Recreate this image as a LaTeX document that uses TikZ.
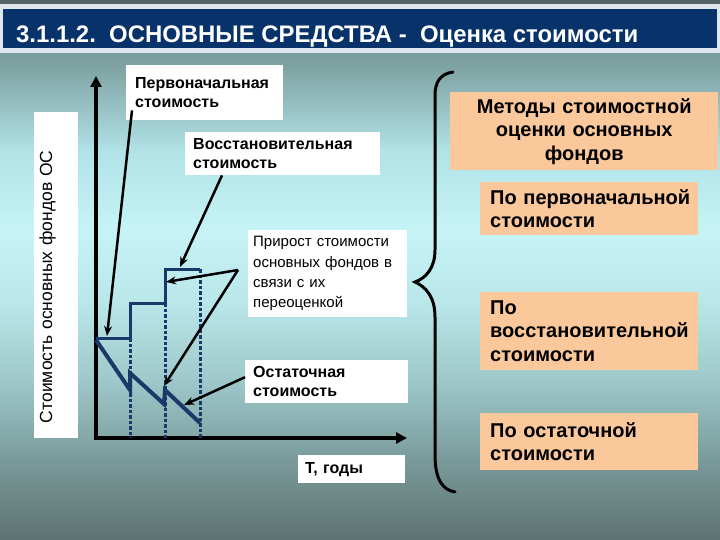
\documentclass[tikz,border=0pt]{standalone}
\usepackage{fontspec}
\setmainfont{Liberation Sans}
\usetikzlibrary{arrows.meta}
\definecolor{navy}{RGB}{8,50,106}
\definecolor{topdark}{RGB}{84,100,100}
\definecolor{titlelight}{RGB}{222,232,236}
\definecolor{peach}{RGB}{250,200,155}
\definecolor{graphblue}{RGB}{26,56,104}
\definecolor{bg1}{RGB}{118,148,148}
\definecolor{bg2}{RGB}{124,158,158}
\definecolor{bg3}{RGB}{176,226,230}
\definecolor{bg4}{RGB}{198,244,246}
\definecolor{bg5}{RGB}{186,232,234}
\definecolor{bg6}{RGB}{158,200,202}
\definecolor{bg7}{RGB}{122,154,154}
\definecolor{bg8}{RGB}{92,114,112}
\pgfdeclareverticalshading{bgshade}{100bp}{color(0bp)=(bg8); color(25bp)=(bg8); color(32.4bp)=(bg7); color(39.8bp)=(bg6); color(47.2bp)=(bg5); color(53.7bp)=(bg4); color(61.1bp)=(bg3); color(69.4bp)=(bg2); color(75bp)=(bg1); color(100bp)=(bg1)}
\tikzset{
  wbox/.style={fill=white, anchor=north west, inner ysep=0pt, align=left},
  pbox/.style={fill=peach, anchor=north west, inner ysep=0pt, inner xsep=10pt, text width=198pt, minimum width=218pt, align=left, font=\fontsize{20}{23.5}\selectfont\bfseries},
  smallbold/.style={font=\fontsize{16}{19.5}\selectfont\bfseries},
  pointer/.style={draw=black, line width=2.5pt, -{Stealth[length=10pt,width=8pt]}},
  axis/.style={draw=black, line width=4pt, -{Triangle[length=11pt,width=11pt]}},
  stepline/.style={draw=graphblue, line width=3pt, line join=miter},
  sawline/.style={draw=graphblue, line width=4pt, line join=miter},
  dropline/.style={draw=graphblue, line width=3pt, dash pattern=on 3.5pt off 2pt},
}
\begin{document}
\begin{tikzpicture}[x=1pt,y=-1pt]
\useasboundingbox (0,0) rectangle (720,540);
\shade[shading=bgshade] (0,0) rectangle (720,540);
\fill[topdark] (0,0) rectangle (720,4);
\fill[titlelight] (0,4) rectangle (720,53);
\fill[navy] (3,9) rectangle (717,48);
\node[anchor=base west, inner sep=0pt, text=white, font=\fontsize{23.9}{28}\selectfont\bfseries] (title) at (16,43) {3.1.1.2.\ \ ОСНОВНЫЕ СРЕДСТВА -\ \ Оценка стоимости};

% y axis label box
\node[fill=white, rotate=90, minimum width=326pt, minimum height=44pt, inner xsep=15pt, inner ysep=0pt, text width=296pt, align=left, text height=9pt, text depth=17pt, font=\fontsize{17.5}{20}\selectfont] (ylab) at (56,275) {Стоимость основных фондов ОС};

% axes
\coordinate (O) at (96,438);
\coordinate (ytip) at (96,76);
\coordinate (xtip) at (407,438);
\draw[axis] ([yshift=-2pt]O) -- (ytip);
\draw[axis] ([xshift=-2pt]O) -- (xtip);

% graph points
\coordinate (s0) at (96,338);
\coordinate (s1) at (130,338);
\coordinate (s2) at (130,303);
\coordinate (s3) at (165,303);
\coordinate (s4) at (165,269);
\coordinate (s5) at (200,269);
\draw[dropline] (s1) -- (130,438);
\draw[dropline] (s3) -- (165,438);
\draw[dropline] (s5) -- (200,438);
\draw[stepline] (s0) -- (s1) -- (s2) -- (s3) -- (s4) -- (s5);
\coordinate (r0) at (96,340);
\coordinate (r1) at (130,390);
\coordinate (r2) at (130,373);
\coordinate (r3) at (164,404);
\coordinate (r4) at (165,390);
\coordinate (r5) at (200,423);
\draw[sawline] (r0) -- (r1) -- (r2) -- (r3) -- (r4) -- (r5);

% text boxes
\node[wbox, smallbold, inner xsep=9pt, text width=139pt, minimum width=157pt, minimum height=55pt] (perv) at (126,65) {Первоначальная\\стоимость};
\node[wbox, smallbold, inner xsep=8pt, text width=179pt, minimum width=195pt, minimum height=43pt] (vosst) at (185,132) {Восстановительная\\стоимость};
\node[wbox, inner xsep=5pt, text width=149pt, minimum width=159pt, minimum height=87pt, font=\fontsize{15}{20.3}\selectfont] (prirost) at (248,230) {Прирост стоимости\\основных фондов в\\связи с их\\переоценкой};
\node[wbox, smallbold, inner xsep=8pt, text width=147pt, minimum width=163pt, minimum height=43pt] (ost) at (245,360) {Остаточная\\стоимость};
\node[wbox, smallbold, inner xsep=7pt, text width=93pt, minimum width=107pt, minimum height=28pt] (tgody) at (298,455) {Т, годы};

% pointers
\coordinate (p1) at (107,336);
\coordinate (p2) at (180,267);
\coordinate (apex) at (238,270);
\coordinate (p3) at (166,282);
\coordinate (p4) at (164,386);
\coordinate (p5) at (184,405);
\draw[pointer] ([xshift=6pt,yshift=10pt]perv.south west) -- (p1);
\draw[pointer] ([xshift=37pt]vosst.south west) -- (p2);
\draw[pointer] (apex) -- (p3);
\draw[pointer] (apex) -- (p4);
\draw[pointer] ([yshift=4.5pt]ost.west) -- (p5);

% brace
\draw[line width=3pt, line cap=round] (453,72) .. controls (440,74) and (435,82) .. (435,96) -- (435,250) .. controls (435,268) and (426,278) .. (415,282) .. controls (426,287) and (435,297) .. (435,317) -- (435,455) .. controls (435,480) and (443,490) .. (455,492);

% right boxes
\node[pbox, inner xsep=9pt, text width=250pt, minimum width=268pt, minimum height=78pt, align=center] (metody) at (450,92) {Методы стоимостной\\оценки основных\\фондов};
\node[pbox, minimum height=53pt] (pperv) at (480,182) {По~первоначальной\\стоимости};
\node[pbox, minimum height=78pt] (pvosst) at (480,292) {По\\восстановительной\\стоимости};
\node[pbox, minimum height=57pt] (post) at (480,413) {По~остаточной\\стоимости};
\end{tikzpicture}
\end{document}
